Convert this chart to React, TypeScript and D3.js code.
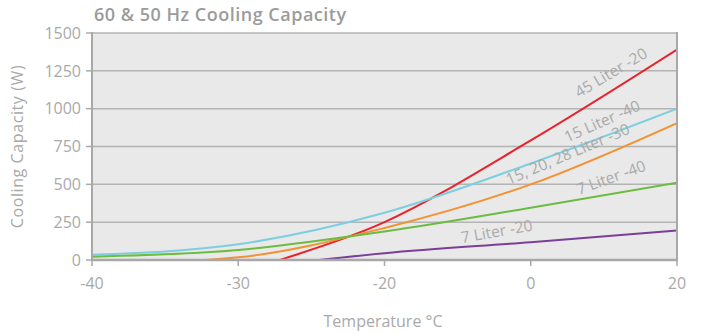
import React, { useEffect, useRef } from 'react';
import * as d3 from 'd3';

// x categories are evenly spaced in the source chart, even though 0 and 20 skip a step
const temperatures = ['-40', '-30', '-20', '0', '20'];
const yTicks = [0, 250, 500, 750, 1000, 1250, 1500];

const liter45m20 = [-480, -95, 250, 790, 1390];
const liter15m40 = [35, 104, 312, 638, 1000];
const liter152028m30 = [-30, 18, 212, 500, 905];
const liter7m40 = [22, 66, 188, 345, 510];
const liter7m20 = [-170, -60, 45, 118, 195];

const seriesNames = ['45 Liter -20', '15 Liter -40', '15, 20, 28 Liter -30', '7 Liter -40', '7 Liter -20'];
const seriesValues = [liter45m20, liter15m40, liter152028m30, liter7m40, liter7m20];
const seriesColors = ['#e8232b', '#7dcfe0', '#f39233', '#6cbc3f', '#7a3f97'];

// where each series label sits: position along the category index and value
const labelIndex = [3.33, 3.25, 2.85, 3.33, 2.53];
const labelValue = [1070, 775, 496, 430, 112];
const labelAngle = [-31, -24, -23, -20, -10];

const W = 702;
const H = 334;
const FONT = "'Open Sans', sans-serif";
const GREY = '#a9a9a9';

export default function App() {
  const svgRef = useRef<SVGSVGElement>(null);

  useEffect(() => {
    if (!svgRef.current) return;
    const svg = d3.select(svgRef.current);
    svg.selectAll('*').remove();

    const margin = { top: 33, right: 25, bottom: 74, left: 92 };
    const x = d3.scaleLinear().domain([0, temperatures.length - 1]).range([margin.left, W - margin.right]);
    const y = d3.scaleLinear().domain([0, 1500]).range([H - margin.bottom, margin.top]);

    svg.append('rect').attr('width', W).attr('height', H).attr('fill', '#fff');

    svg.append('text')
      .attr('x', 94).attr('y', 21)
      .attr('font-family', FONT).attr('font-size', 18).attr('font-weight', 600)
      .attr('letter-spacing', 0.5)
      .attr('fill', '#9b9b9b')
      .text('60 & 50 Hz Cooling Capacity');

    const [x0, x1] = x.range();
    const [y0, y1] = y.range();

    svg.append('rect')
      .attr('x', x0).attr('y', y1).attr('width', x1 - x0).attr('height', y0 - y1)
      .attr('fill', '#e9e9e9');

    svg.append('defs').append('clipPath').attr('id', 'plot-clip')
      .append('rect').attr('x', x0).attr('y', y1).attr('width', x1 - x0).attr('height', y0 - y1);

    // horizontal grid
    svg.append('g').selectAll('line').data(yTicks.filter(d => d > 0)).enter().append('line')
      .attr('x1', x0).attr('x2', x1)
      .attr('y1', d => y(d)).attr('y2', d => y(d))
      .attr('stroke', '#b4b4b4').attr('stroke-width', 1.5);

    // y ticks + labels
    const yAxis = svg.append('g');
    yAxis.selectAll('line').data(yTicks).enter().append('line')
      .attr('x1', x0 - 6).attr('x2', x0)
      .attr('y1', d => y(d)).attr('y2', d => y(d))
      .attr('stroke', '#aaa').attr('stroke-width', 1.5);
    yAxis.selectAll('text').data(yTicks).enter().append('text')
      .attr('x', x0 - 11).attr('y', d => y(d)).attr('dy', '0.36em')
      .attr('text-anchor', 'end')
      .attr('font-family', FONT).attr('font-size', 16).attr('fill', GREY)
      .text(d => d);

    // x ticks + labels
    const xAxis = svg.append('g');
    xAxis.selectAll('line').data(temperatures).enter().append('line')
      .attr('x1', (d, i) => x(i)).attr('x2', (d, i) => x(i))
      .attr('y1', y0).attr('y2', y0 + 6)
      .attr('stroke', '#aaa').attr('stroke-width', 1.5);
    xAxis.selectAll('text').data(temperatures).enter().append('text')
      .attr('x', (d, i) => x(i)).attr('y', y0 + 29)
      .attr('text-anchor', 'middle')
      .attr('font-family', FONT).attr('font-size', 16).attr('fill', GREY)
      .text(d => d);

    svg.append('text')
      .attr('x', 383).attr('y', 327).attr('text-anchor', 'middle')
      .attr('font-family', FONT).attr('font-size', 16).attr('fill', GREY)
      .text('Temperature °C');

    svg.append('text')
      .attr('transform', `translate(23,${(y0 + y1) / 2}) rotate(-90)`)
      .attr('text-anchor', 'middle')
      .attr('font-family', FONT).attr('font-size', 16).attr('letter-spacing', 0.6)
      .attr('fill', GREY)
      .text('Cooling Capacity (W)');

    // series lines
    const line = d3.line<number>()
      .x((d, i) => x(i))
      .y(d => y(d))
      .curve(d3.curveMonotoneX);

    const plot = svg.append('g').attr('clip-path', 'url(#plot-clip)');
    seriesValues.forEach((vals, k) => {
      plot.append('path')
        .attr('d', line(vals))
        .attr('fill', 'none')
        .attr('stroke', seriesColors[k])
        .attr('stroke-width', 2);
    });

    // frame
    svg.append('line').attr('x1', x0).attr('x2', x0).attr('y1', y1 - 1).attr('y2', y0)
      .attr('stroke', '#a8a8a8').attr('stroke-width', 2);
    svg.append('line').attr('x1', x1).attr('x2', x1).attr('y1', y1 - 1).attr('y2', y0)
      .attr('stroke', '#a8a8a8').attr('stroke-width', 2);
    svg.append('line').attr('x1', x0 - 1).attr('x2', x1 + 1).attr('y1', y0).attr('y2', y0)
      .attr('stroke', '#a8a8a8').attr('stroke-width', 2.5);

    // series labels along the lines
    svg.append('g').selectAll('text').data(seriesNames).enter().append('text')
      .attr('transform', (d, i) => `translate(${x(labelIndex[i])},${y(labelValue[i])}) rotate(${labelAngle[i]})`)
      .attr('font-family', FONT).attr('font-size', 15.5).attr('fill', GREY)
      .text(d => d);
  }, []);

  return (
    <svg
      ref={svgRef}
      width={W}
      height={H}
      viewBox={`0 0 ${W} ${H}`}
      style={{ position: 'absolute', left: 0, top: 0 }}
    />
  );
}
